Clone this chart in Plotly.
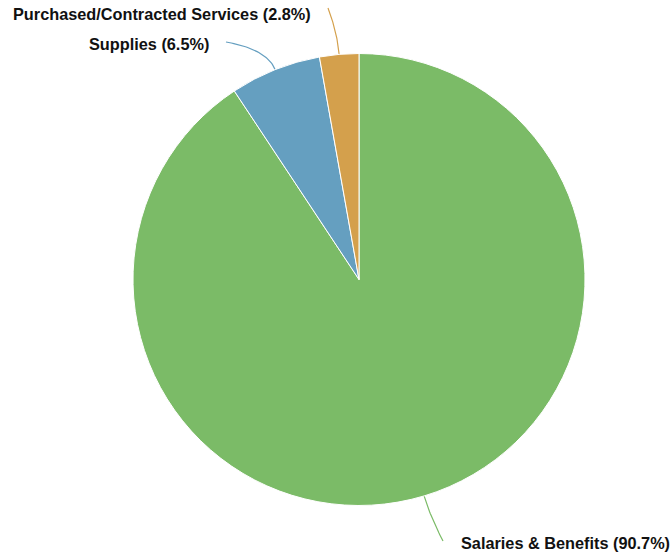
import math
import plotly.graph_objects as go

categories = ["Salaries & Benefits", "Supplies", "Purchased/Contracted Services"]
values = [90.7, 6.5, 2.8]
colors = ["#7bbb67", "#659fc0", "#d4a04c"]

W, H = 671, 557
CX, CY, R = 359, 279.5, 226

# label anchor points (pixels) and alignment
label_pos = [(443, 541, "left"), (226, 42, "right"), (328, 8, "right")]
text_pos = [(459, 543), (211, 44), (313, 14)]

fig = go.Figure()
fig.add_trace(go.Pie(
    labels=categories, values=values, sort=False, direction="clockwise", rotation=0,
    marker=dict(colors=colors, line=dict(color="white", width=1)),
    textinfo="none", hoverinfo="label+percent", showlegend=False,
    domain=dict(x=[(CX - R) / W, (CX + R) / W], y=[1 - (CY + R) / H, 1 - (CY - R) / H]),
))

total = sum(values)
cum = 0.0
for i, (cat, v) in enumerate(zip(categories, values)):
    mid = (cum + v / 2) / total * 2 * math.pi
    cum += v
    ux, uy = math.sin(mid), -math.cos(mid)
    sx, sy = CX + R * ux, CY + R * uy
    cx_, cy_ = CX + (R + 22) * ux, CY + (R + 22) * uy
    ex, ey, anchor = label_pos[i]
    xs, ys = [], []
    for k in range(31):
        t = k / 30
        xs.append((1 - t) ** 2 * sx + 2 * (1 - t) * t * cx_ + t ** 2 * ex)
        ys.append((1 - t) ** 2 * sy + 2 * (1 - t) * t * cy_ + t ** 2 * ey)
    fig.add_trace(go.Scatter(x=xs, y=ys, mode="lines", line=dict(color=colors[i], width=1.2),
                             hoverinfo="skip", showlegend=False))
    pct = v / total * 100
    tx, ty = text_pos[i]
    fig.add_annotation(x=tx, y=ty, xref="x", yref="y", text=f"<b>{cat} ({pct:.1f}%)</b>",
                       showarrow=False, xanchor=anchor, yanchor="middle",
                       font=dict(family="Liberation Sans, Arial, sans-serif", size=16.3, color="#111"))

fig.update_layout(
    width=W, height=H, margin=dict(l=0, r=0, t=0, b=0),
    paper_bgcolor="white", plot_bgcolor="rgba(0,0,0,0)",
    xaxis=dict(range=[0, W], visible=False, domain=[0, 1], fixedrange=True),
    yaxis=dict(range=[H, 0], visible=False, domain=[0, 1], fixedrange=True),
)
fig.write_html("out.html", config={"displayModeBar": False},
               post_script="document.body.style.margin='0';document.body.style.overflow='hidden';")
